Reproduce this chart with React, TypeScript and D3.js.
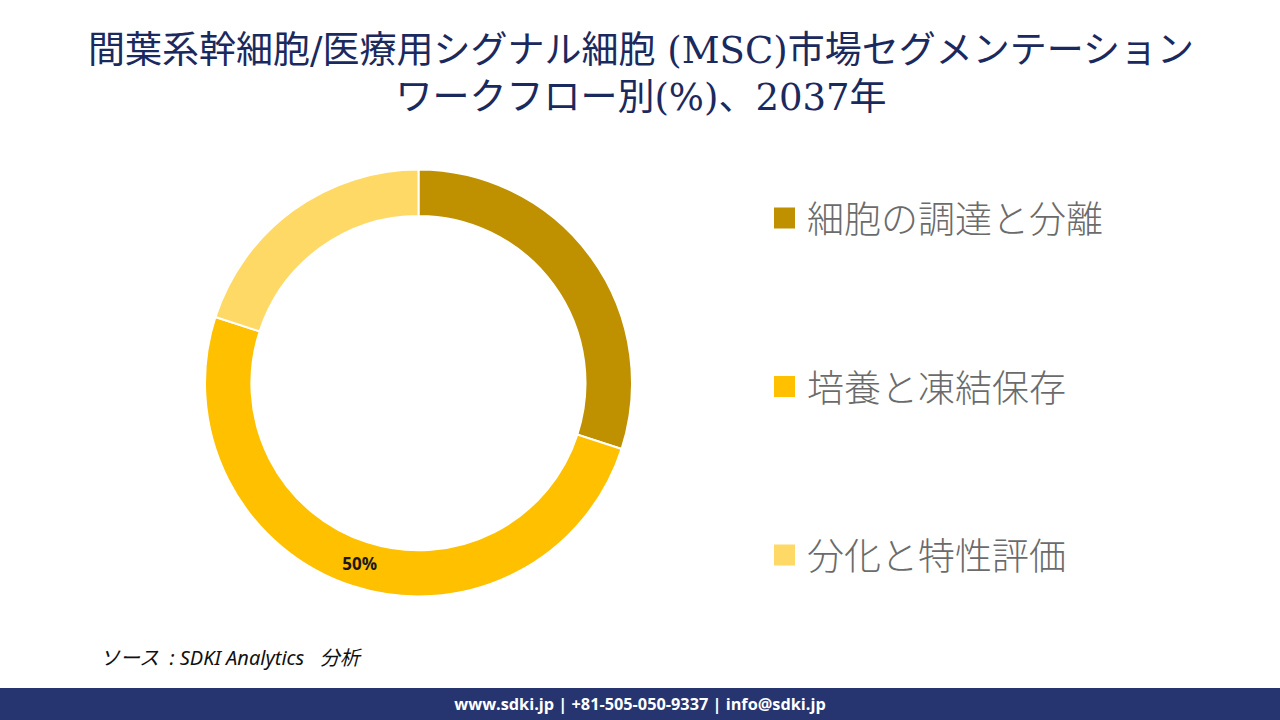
import React from "react";
import * as d3 from "d3";

const titleLines = ["間葉系幹細胞/医療用シグナル細胞 (MSC)市場セグメンテーション", "ワークフロー別(%)、2037年"];
const categories = ["細胞の調達と分離", "培養と凍結保存", "分化と特性評価"];
const values = [30, 50, 20];
const colors = ["#BF9000", "#FFC000", "#FFD966"];
const shownLabels = [false, true, false];
const sourceText = "ソース  : SDKI Analytics   分析";
const footerText = "www.sdki.jp | +81-505-050-9337 | info@sdki.jp";

export default function App() {
  const W = 1280, H = 720;
  const cx = 418.5, cy = 383, outerR = 213.5, innerR = 167;
  const pie = d3.pie<number>().sort(null).value((d) => d).startAngle(0).endAngle(2 * Math.PI);
  const arcs = pie(values);
  const arc = d3.arc<d3.PieArcDatum<number>>().innerRadius(innerR).outerRadius(outerR);
  const total = d3.sum(values);
  const legendY = d3.scalePoint<string>().domain(categories).range([217, 554]);

  return (
    <svg width={W} height={H} style={{ position: "absolute", left: 0, top: 0, background: "#fff" }}>
      <rect x={0} y={0} width={W} height={H} fill="#ffffff" />
      {titleLines.map((t, i) => (
        <text key={i} x={641} y={63 + i * 47} textAnchor="middle" fontSize={37}
          fontFamily="'DejaVu Serif', 'Liberation Serif', 'Noto Sans CJK JP', serif" fill="#1B2A5E">
          {t}
        </text>
      ))}
      <g transform={`translate(${cx},${cy})`}>
        {arcs.map((a, i) => (
          <path key={i} d={arc(a) || ""} fill={colors[i]} stroke="#ffffff" strokeWidth={2} />
        ))}
        {arcs.map((a, i) => {
          if (!shownLabels[i]) return null;
          const [x, y] = arc.centroid(a);
          return (
            <text key={"l" + i} x={x} y={y} textAnchor="middle" dominantBaseline="central"
              fontSize={17} fontWeight="bold" fontFamily="'Open Sans', 'Noto Sans', sans-serif" fill="#1a1a1a">
              {Math.round((values[i] / total) * 100)}%
            </text>
          );
        })}
      </g>
      {categories.map((c, i) => {
        const y = legendY(c) as number;
        return (
          <g key={c}>
            <rect x={774} y={y - 9.5} width={21} height={21} fill={colors[i]} />
            <text x={807} y={y} dominantBaseline="central" fontSize={37} fontWeight={300}
              fontFamily="'Noto Sans CJK JP', sans-serif" fill="#6b6b6b">
              {c}
            </text>
          </g>
        );
      })}
      <text x={100} y={665} fontSize={20} fontStyle="italic" style={{ whiteSpace: "pre" }}
        fontFamily="'Noto Sans', 'Noto Sans CJK JP', sans-serif" fill="#111">
        {sourceText}
      </text>
      <rect x={0} y={688} width={W} height={32} fill="#263470" />
      <text x={640} y={704} textAnchor="middle" dominantBaseline="central" fontSize={16.3} fontWeight="bold"
        fontFamily="'Open Sans', 'Noto Sans', sans-serif" fill="#ffffff">
        {footerText}
      </text>
    </svg>
  );
}
